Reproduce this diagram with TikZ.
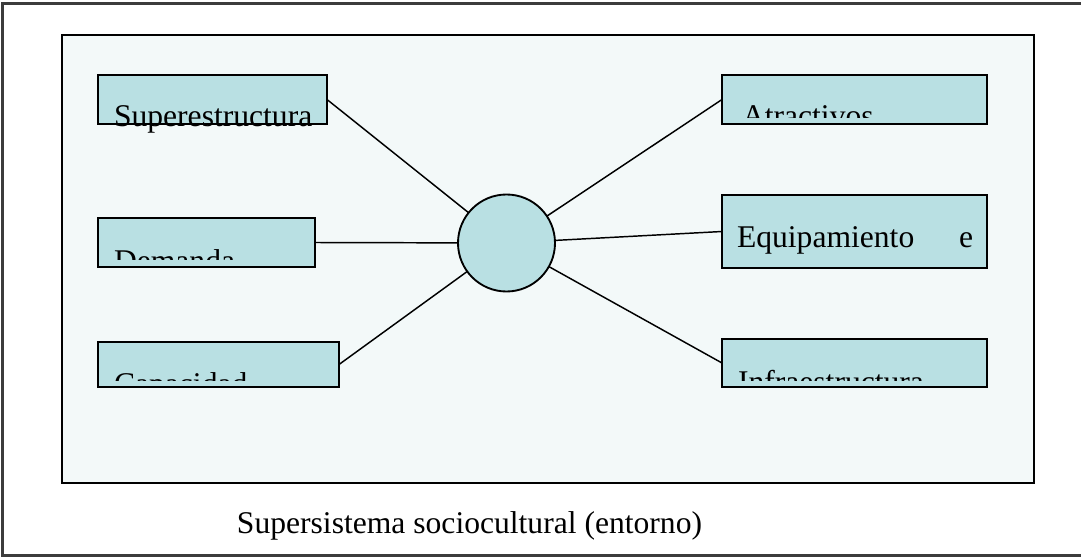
\documentclass[tikz,border=0pt]{standalone}
\usepackage{fontspec}
\setmainfont{Liberation Serif}
\definecolor{boxfill}{RGB}{185,224,227}
\definecolor{panelfill}{RGB}{243,249,249}
\definecolor{framegray}{RGB}{60,60,60}
\begin{document}
\begin{tikzpicture}[x=0.75pt,y=-0.75pt,
  txt/.style={inner sep=0pt,outer sep=0pt,anchor=base west,font=\fontsize{23.7}{28}\selectfont},
  sbox/.style={draw=black,line width=1.4pt,fill=boxfill,inner sep=0pt,outer sep=0pt,rectangle},
  link/.style={draw=black,line width=1.1pt}]
\useasboundingbox (0,0) rectangle (1081,560);
% outer frame (open on the right)
\draw[framegray,line width=1.6pt] (1081,3.5) -- (2.5,3.5) -- (2.5,555.5) -- (1081,555.5);
% panel
\node[draw=black,line width=1.8pt,fill=panelfill,inner sep=0pt,outer sep=0pt,
  minimum width={972*0.75pt},minimum height={448*0.75pt}] (panel) at (548,259) {};
% centre circle
\node[circle,draw=black,line width=1.4pt,fill=boxfill,inner sep=0pt,outer sep=0pt,
  minimum size={97*0.75pt}] (c) at (506.5,243) {};
% boxes
\node[sbox,minimum width={229*0.75pt},minimum height={49*0.75pt}] (sup) at (212.5,99.5) {};
\node[sbox,minimum width={217*0.75pt},minimum height={49*0.75pt}] (dem) at (206.5,242.5) {};
\node[sbox,minimum width={241*0.75pt},minimum height={45*0.75pt}] (cap) at (218.5,364.5) {};
\node[sbox,minimum width={265*0.75pt},minimum height={49*0.75pt}] (atr) at (854.5,99.5) {};
\node[sbox,minimum width={265*0.75pt},minimum height={73*0.75pt}] (equ) at (854.5,231.5) {};
\node[sbox,minimum width={265*0.75pt},minimum height={48*0.75pt}] (inf) at (854.5,363) {};
% connectors
\draw[link] (sup.east) -- (c);
\draw[link] (dem.east) -- (c);
\draw[link] (cap.east) -- (c);
\draw[link] (atr.west) -- (c);
\draw[link] (equ.west) -- (c);
\draw[link] (inf.west) -- (c);
% texts
\node[txt] (tsup) at (114,127) {Superestructura};
\begin{scope}
  \clip (99,219) rectangle (314,259.5);
  \node[txt] (tdem) at (114,271) {Demanda};
\end{scope}
\begin{scope}
  \clip (99,343) rectangle (338,380);
  \node[txt] (tcap) at (114,394) {Capacidad};
\end{scope}
\begin{scope}
  \clip (723,76) rectangle (986,117);
  \node[txt] (tatr) at (742,126) {Atractivos};
\end{scope}
\node[txt] (tequ) at (737,247) {\hbox to 177pt{Equipamiento\hfill e}};
\begin{scope}
  \clip (723,340) rectangle (986,380);
  \node[txt] (tinf) at (738,392) {Infraestructura};
\end{scope}
\node[txt,anchor=base] (tbot) at (469.5,533) {Supersistema sociocultural (entorno)};
\end{tikzpicture}
\end{document}
